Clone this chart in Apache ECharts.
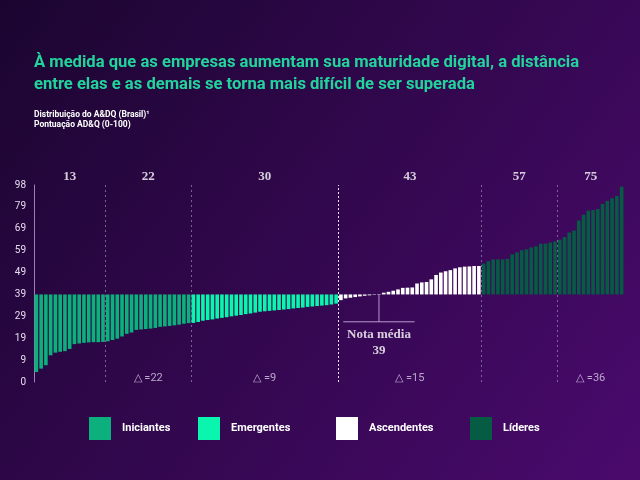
<!DOCTYPE html>
<html>
<head>
<meta charset="utf-8">
<script src="https://cdn.jsdelivr.net/npm/echarts@6/dist/echarts.min.js"></script>
<style>
    html, body { margin: 0; padding: 0; }
    #chart { width: 640px; height: 480px; }
</style>
</head>
<body>
<div id="chart"></div>
<script>
// rótulos do eixo Y (escala não linear)
var tickLabels = [0, 9, 19, 29, 39, 49, 59, 69, 79, 98];
var notaMedia = 39;

// pontuação de cada empresa, por faixa
var iniciantes = [4.1, 5.5, 6.9, 11.2, 12.4, 12.8, 13.1, 14.1, 16.3, 16.6, 16.9, 17.1, 17.2, 17.2, 17.3, 17.6, 18.2,
    18.8, 19.8, 21, 21.6, 22.8, 23, 23.2, 23.4, 23.7, 24.2, 24.4, 24.6, 24.9, 25.2, 25.6, 25.9];
var emergentes = [26, 26.4, 27, 27.3, 27.6, 28, 28.3, 28.6, 29, 29.3, 29.6, 30, 30.3, 30.7, 31.1, 31.3, 31.5, 31.7,
    31.9, 32.1, 32.3, 32.6, 32.8, 33, 33.3, 33.5, 33.7, 33.9, 34.1, 34.4, 34.8];
var ascendentes = [36.4, 37.2, 37.5, 37.8, 38.1, 38.4, 38.6, 38.8, 39.2, 39.8, 40.2, 40.7, 41.3, 42, 42.1, 42.2, 44,
    44.5, 44.7, 45.9, 47.9, 49, 49.6, 50.1, 50.9, 51.4, 51.7, 51.8, 52, 52];
var lideres = [53.1, 54.2, 55, 55, 55, 55.3, 57.3, 58.2, 59.2, 59.6, 60.5, 61, 62.2, 62.2, 62.7, 63.2, 64, 65.2, 67.3,
    68.2, 72.8, 75.4, 77.3, 77.6, 78, 81.6, 84.2, 86.5, 88.5, 96.5];

var faixaNomes = ['Iniciantes', 'Emergentes', 'Ascendentes', 'Líderes'];
var faixaCores = ['#0bb07c', '#0af5ad', '#ffffff', '#055c43'];

// médias de cada bloco (entre as linhas tracejadas) e diferenças
var blocoMedias = ['13', '22', '30', '43', '57', '75'];
var blocoFim = [15, 33, 64, 94, 110, 124];
var deltas = ['=22', '=9', '=15', '=36'];
var deltaBlocos = [1, 2, 3, 5];

var faixas = [iniciantes, emergentes, ascendentes, lideres];
var total = 0;
faixas.forEach(function (f) { total += f.length; });

// converte a pontuação para a posição no eixo (0 = nota média)
var base = tickLabels.indexOf(notaMedia);
function escala(v) {
    for (var i = 0; i < tickLabels.length - 1; i++) {
        if (v <= tickLabels[i + 1]) {
            return i + (v - tickLabels[i]) / (tickLabels[i + 1] - tickLabels[i]) - base;
        }
    }
    return tickLabels.length - 1 - base;
}

var categorias = [];
for (var i = 0; i < total; i++) categorias.push(i);

var series = [];
var inicio = 0;
var todos = [];
faixas.forEach(function (f, k) {
    var data = [];
    for (var j = 0; j < total; j++) data.push(null);
    f.forEach(function (v, j) { data[inicio + j] = escala(v); todos.push(v); });
    series.push({
        name: faixaNomes[k],
        type: 'bar',
        data: data,
        barWidth: '76%',
        barGap: '-100%',
        itemStyle: { color: faixaCores[k] },
        silent: true
    });
    inicio += f.length;
});

// posição onde as barras cruzam a nota média
var cruzamento = 0;
for (var i = 0; i < todos.length; i++) {
    if (todos[i] >= notaMedia) { cruzamento = i + 0.5; break; }
}

// linhas tracejadas
var linhas = [];
blocoFim.slice(0, blocoFim.length - 1).forEach(function (x) {
    var destaque = (x === iniciantes.length + emergentes.length);
    linhas.push({
        xAxis: x,
        lineStyle: {
            color: destaque ? '#ffffff' : '#9f84bb',
            type: destaque ? [2, 2] : [2, 3],
            width: 1,
            opacity: destaque ? 0.9 : 0.7
        }
    });
});

var centros = [];
var ini = 0;
blocoFim.forEach(function (fim) { centros.push((ini + fim) / 2); ini = fim; });

series.push({
    type: 'scatter',
    xAxisIndex: 1,
    symbolSize: 1,
    itemStyle: { color: 'transparent' },
    data: centros.map(function (c) { return [c, tickLabels.length - 1 - base]; }),
    label: {
        show: true,
        position: 'top',
        distance: 1,
        formatter: function (p) { return blocoMedias[p.dataIndex]; },
        color: '#ffffff',
        fontFamily: 'Liberation Serif',
        fontWeight: 'bold',
        fontSize: 13
    },
    markLine: {
        silent: true,
        symbol: 'none',
        label: { show: false },
        data: linhas
    },
    silent: true
});

series.push({
    type: 'scatter',
    xAxisIndex: 1,
    symbolSize: 1,
    itemStyle: { color: 'transparent' },
    data: deltaBlocos.map(function (b) { return [centros[b], -base + 0.18]; }),
    label: {
        show: true,
        position: 'inside',
        formatter: function (p) { return '△ ' + deltas[p.dataIndex]; },
        color: '#dccfee',
        fontFamily: 'Roboto',
        fontSize: 11
    },
    silent: true
});

// marcador da nota média
var yNota = -1.25;
series.push({
    type: 'line',
    xAxisIndex: 1,
    data: [[cruzamento, 0], [cruzamento, yNota]],
    symbol: 'circle',
    symbolSize: [4, 0],
    showSymbol: true,
    itemStyle: { color: '#ffffff' },
    lineStyle: { color: '#b89acc', width: 1 },
    silent: true,
    z: 5
});
series.push({
    type: 'line',
    xAxisIndex: 1,
    data: [[cruzamento - 7.5, yNota], [cruzamento + 7.5, yNota]],
    symbol: 'none',
    lineStyle: { color: '#b89acc', width: 1 },
    silent: true
});
series.push({
    type: 'scatter',
    xAxisIndex: 1,
    symbolSize: 1,
    itemStyle: { color: 'transparent' },
    data: [[cruzamento, yNota]],
    label: {
        show: true,
        position: 'bottom',
        distance: 4,
        formatter: 'Nota média\n' + notaMedia,
        color: '#ffffff',
        fontFamily: 'Liberation Serif',
        fontWeight: 'bold',
        fontSize: 13,
        lineHeight: 16,
        align: 'center'
    },
    silent: true
});

var chart = echarts.init(document.getElementById('chart'));
var option = {
    backgroundColor: {
        type: 'linear', x: 0, y: 0, x2: 1, y2: 1,
        colorStops: [{ offset: 0, color: '#1b0530' }, { offset: 1, color: '#4a0a6d' }]
    },
    animation: false,
    title: {
        text: 'À medida que as empresas aumentam sua maturidade digital, a distância\nentre elas e as demais se torna mais difícil de ser superada',
        subtext: 'Distribuição do A&DQ (Brasil)¹\nPontuação AD&Q (0-100)',
        left: 29,
        top: 47,
        itemGap: 14,
        textStyle: { color: '#22d49c', fontFamily: 'Roboto', fontWeight: 'bold', fontSize: 16.6, lineHeight: 22 },
        subtextStyle: { color: '#ffffff', fontFamily: 'Roboto', fontWeight: 'bold', fontSize: 8.5, lineHeight: 10 }
    },
    legend: faixaNomes.map(function (n, k) {
        return {
            data: [n],
            left: [84, 193, 331, 465][k],
            top: 412,
            icon: 'rect',
            itemWidth: 22,
            itemHeight: 23,
            textStyle: { color: '#ffffff', fontFamily: 'Roboto', fontWeight: 'bold', fontSize: 11, padding: [0, 0, 0, 6] },
            selectedMode: false
        };
    }),
    grid: { left: 34, right: 16, top: 185, bottom: 98 },
    xAxis: [
        { type: 'category', data: categorias, show: false, boundaryGap: true },
        { type: 'value', min: 0, max: total, show: false }
    ],
    yAxis: {
        type: 'value',
        min: -base,
        max: tickLabels.length - 1 - base,
        interval: 1,
        axisLine: { show: true, lineStyle: { color: '#9a80b5' } },
        axisTick: { show: false },
        splitLine: { show: false },
        axisLabel: {
            color: '#e6dcef',
            fontFamily: 'Roboto',
            fontSize: 10,
            margin: 8,
            formatter: function (v) { return tickLabels[Math.round(v) + base]; }
        }
    },
    series: series
};
chart.setOption(option);
</script>
</body>
</html>
